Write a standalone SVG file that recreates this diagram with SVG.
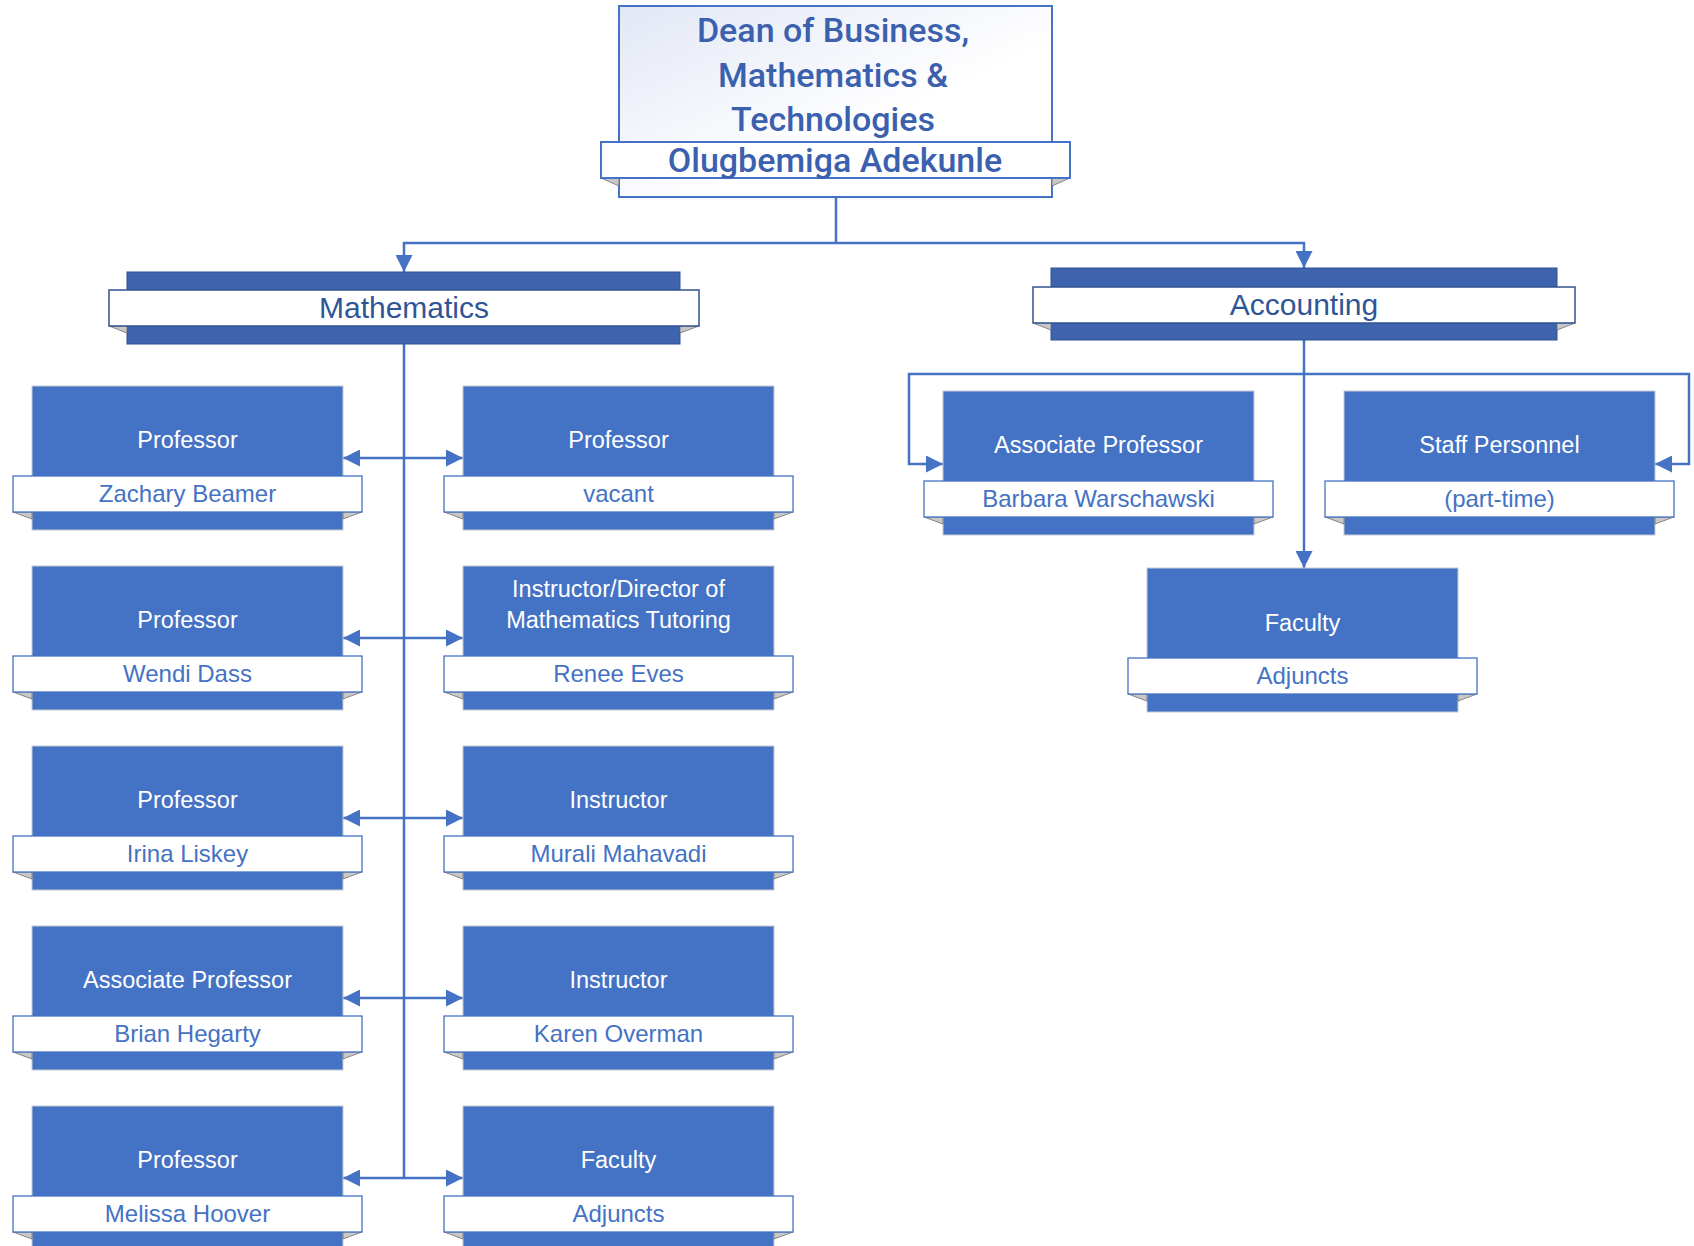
<svg xmlns="http://www.w3.org/2000/svg" width="1694" height="1246" viewBox="0 0 1694 1246">
<style>
.box{fill:#4472C4;stroke:#C5CAD3;stroke-width:1}
.band{fill:#FFFFFF;stroke:#4472C4;stroke-width:1.3}
.fold{fill:#C8C8C8;stroke:#6E6E6E;stroke-width:0.8}
.hdr{fill:#3D64AD;stroke:#2F5290;stroke-width:1}
.hband{fill:#FFFFFF;stroke:#2F5290;stroke-width:1.5}
.t{font-family:"Liberation Sans",Arial,sans-serif;font-size:23.5px;fill:#FFFFFF;text-anchor:middle}
.n{font-family:"Liberation Sans",Arial,sans-serif;font-size:24px;fill:#4472C4;text-anchor:middle}
.h{font-family:"Liberation Sans",Arial,sans-serif;font-size:30px;fill:#2F5597;text-anchor:middle}
.d{font-family:Roboto,"Liberation Sans",Arial,sans-serif;font-weight:500;font-size:34px;fill:#3A60AE;text-anchor:middle}
.c{fill:none;stroke:#4472C4;stroke-width:2.5}
</style>
<defs>
<linearGradient id="dg" x1="0" y1="0" x2="1" y2="1">
<stop offset="0" stop-color="#E2E7F5"/>
<stop offset="0.6" stop-color="#FFFFFF"/>
<stop offset="1" stop-color="#FFFFFF"/>
</linearGradient>
<marker id="ar" viewBox="0 0 17 17" refX="17" refY="8.5" markerWidth="17" markerHeight="17" markerUnits="userSpaceOnUse" orient="auto-start-reverse">
<path d="M0,0 L17,8.5 L0,17 Z" fill="#4472C4"/>
</marker>
</defs>

<g id="connectors">
<path class="c" d="M836,197 V243"/>
<path class="c" d="M836,243 H404 V272" marker-end="url(#ar)"/>
<path class="c" d="M836,243 H1304 V268" marker-end="url(#ar)"/>
<path class="c" d="M404,344 V1178"/>
<path class="c" d="M343,458 H463" marker-start="url(#ar)" marker-end="url(#ar)"/>
<path class="c" d="M343,638 H463" marker-start="url(#ar)" marker-end="url(#ar)"/>
<path class="c" d="M343,818 H463" marker-start="url(#ar)" marker-end="url(#ar)"/>
<path class="c" d="M343,998 H463" marker-start="url(#ar)" marker-end="url(#ar)"/>
<path class="c" d="M343,1178 H463" marker-start="url(#ar)" marker-end="url(#ar)"/>
<path class="c" d="M1304,340 V568" marker-end="url(#ar)"/>
<path class="c" d="M1304,374 H909 V464 H943" marker-end="url(#ar)"/>
<path class="c" d="M1304,374 H1689 V464 H1655" marker-end="url(#ar)"/>
</g>

<g id="dean">
<rect x="619" y="6" width="433" height="191" fill="url(#dg)" stroke="#4472C4" stroke-width="2"/>
<polygon class="fold" points="601,178 619,178 619,186"/>
<polygon class="fold" points="1070,178 1052,178 1052,186"/>
<rect x="601" y="142" width="469" height="36" fill="#FFFFFF" stroke="#4472C4" stroke-width="2"/>
<text class="d" x="833" y="42">Dean of Business,</text>
<text class="d" x="833" y="87">Mathematics &amp;</text>
<text class="d" x="833" y="131">Technologies</text>
<text class="d" x="835" y="172">Olugbemiga Adekunle</text>
</g>

<g id="mathematics">
<rect class="hdr" x="127" y="272" width="553" height="72"/>
<polygon class="fold" points="109,326 127,326 127,333"/>
<polygon class="fold" points="699,326 680,326 680,333"/>
<rect class="hband" x="109" y="290" width="590" height="36"/>
<text class="h" x="404" y="318">Mathematics</text>
</g>

<g id="accounting">
<rect class="hdr" x="1051" y="268" width="506" height="72"/>
<polygon class="fold" points="1033,323 1051,323 1051,330"/>
<polygon class="fold" points="1575,323 1557,323 1557,330"/>
<rect class="hband" x="1033" y="287" width="542" height="36"/>
<text class="h" x="1304" y="315">Accounting</text>
</g>

<g id="m-prof-beamer">
<rect class="box" x="32" y="386" width="311" height="144"/>
<polygon class="fold" points="13,512 32,512 32,519"/>
<polygon class="fold" points="362,512 343,512 343,519"/>
<rect class="band" x="13" y="476" width="349" height="36"/>
<text class="t" x="187.5" y="448">Professor</text>
<text class="n" x="187.5" y="502">Zachary Beamer</text>
</g>

<g id="m-prof-vacant">
<rect class="box" x="463" y="386" width="311" height="144"/>
<polygon class="fold" points="444,512 463,512 463,519"/>
<polygon class="fold" points="793,512 774,512 774,519"/>
<rect class="band" x="444" y="476" width="349" height="36"/>
<text class="t" x="618.5" y="448">Professor</text>
<text class="n" x="618.5" y="502">vacant</text>
</g>

<g id="m-prof-dass">
<rect class="box" x="32" y="566" width="311" height="144"/>
<polygon class="fold" points="13,692 32,692 32,699"/>
<polygon class="fold" points="362,692 343,692 343,699"/>
<rect class="band" x="13" y="656" width="349" height="36"/>
<text class="t" x="187.5" y="628">Professor</text>
<text class="n" x="187.5" y="682">Wendi Dass</text>
</g>

<g id="m-director-eves">
<rect class="box" x="463" y="566" width="311" height="144"/>
<polygon class="fold" points="444,692 463,692 463,699"/>
<polygon class="fold" points="793,692 774,692 774,699"/>
<rect class="band" x="444" y="656" width="349" height="36"/>
<text class="t" x="618.5" y="597">Instructor/Director of</text>
<text class="t" x="618.5" y="628">Mathematics Tutoring</text>
<text class="n" x="618.5" y="682">Renee Eves</text>
</g>

<g id="m-prof-liskey">
<rect class="box" x="32" y="746" width="311" height="144"/>
<polygon class="fold" points="13,872 32,872 32,879"/>
<polygon class="fold" points="362,872 343,872 343,879"/>
<rect class="band" x="13" y="836" width="349" height="36"/>
<text class="t" x="187.5" y="808">Professor</text>
<text class="n" x="187.5" y="862">Irina Liskey</text>
</g>

<g id="m-instr-mahavadi">
<rect class="box" x="463" y="746" width="311" height="144"/>
<polygon class="fold" points="444,872 463,872 463,879"/>
<polygon class="fold" points="793,872 774,872 774,879"/>
<rect class="band" x="444" y="836" width="349" height="36"/>
<text class="t" x="618.5" y="808">Instructor</text>
<text class="n" x="618.5" y="862">Murali Mahavadi</text>
</g>

<g id="m-assoc-hegarty">
<rect class="box" x="32" y="926" width="311" height="144"/>
<polygon class="fold" points="13,1052 32,1052 32,1059"/>
<polygon class="fold" points="362,1052 343,1052 343,1059"/>
<rect class="band" x="13" y="1016" width="349" height="36"/>
<text class="t" x="187.5" y="988">Associate Professor</text>
<text class="n" x="187.5" y="1042">Brian Hegarty</text>
</g>

<g id="m-instr-overman">
<rect class="box" x="463" y="926" width="311" height="144"/>
<polygon class="fold" points="444,1052 463,1052 463,1059"/>
<polygon class="fold" points="793,1052 774,1052 774,1059"/>
<rect class="band" x="444" y="1016" width="349" height="36"/>
<text class="t" x="618.5" y="988">Instructor</text>
<text class="n" x="618.5" y="1042">Karen Overman</text>
</g>

<g id="m-prof-hoover">
<rect class="box" x="32" y="1106" width="311" height="144"/>
<polygon class="fold" points="13,1232 32,1232 32,1239"/>
<polygon class="fold" points="362,1232 343,1232 343,1239"/>
<rect class="band" x="13" y="1196" width="349" height="36"/>
<text class="t" x="187.5" y="1168">Professor</text>
<text class="n" x="187.5" y="1222">Melissa Hoover</text>
</g>

<g id="m-faculty-adjuncts">
<rect class="box" x="463" y="1106" width="311" height="144"/>
<polygon class="fold" points="444,1232 463,1232 463,1239"/>
<polygon class="fold" points="793,1232 774,1232 774,1239"/>
<rect class="band" x="444" y="1196" width="349" height="36"/>
<text class="t" x="618.5" y="1168">Faculty</text>
<text class="n" x="618.5" y="1222">Adjuncts</text>
</g>

<g id="a-assoc-warschawski">
<rect class="box" x="943" y="391" width="311" height="144"/>
<polygon class="fold" points="924,517 943,517 943,524"/>
<polygon class="fold" points="1273,517 1254,517 1254,524"/>
<rect class="band" x="924" y="481" width="349" height="36"/>
<text class="t" x="1098.5" y="453">Associate Professor</text>
<text class="n" x="1098.5" y="507">Barbara Warschawski</text>
</g>

<g id="a-staff">
<rect class="box" x="1344" y="391" width="311" height="144"/>
<polygon class="fold" points="1325,517 1344,517 1344,524"/>
<polygon class="fold" points="1674,517 1655,517 1655,524"/>
<rect class="band" x="1325" y="481" width="349" height="36"/>
<text class="t" x="1499.5" y="453">Staff Personnel</text>
<text class="n" x="1499.5" y="507">(part-time)</text>
</g>

<g id="a-faculty-adjuncts">
<rect class="box" x="1147" y="568" width="311" height="144"/>
<polygon class="fold" points="1128,694 1147,694 1147,701"/>
<polygon class="fold" points="1477,694 1458,694 1458,701"/>
<rect class="band" x="1128" y="658" width="349" height="36"/>
<text class="t" x="1302.5" y="631">Faculty</text>
<text class="n" x="1302.5" y="684">Adjuncts</text>
</g>
</svg>
